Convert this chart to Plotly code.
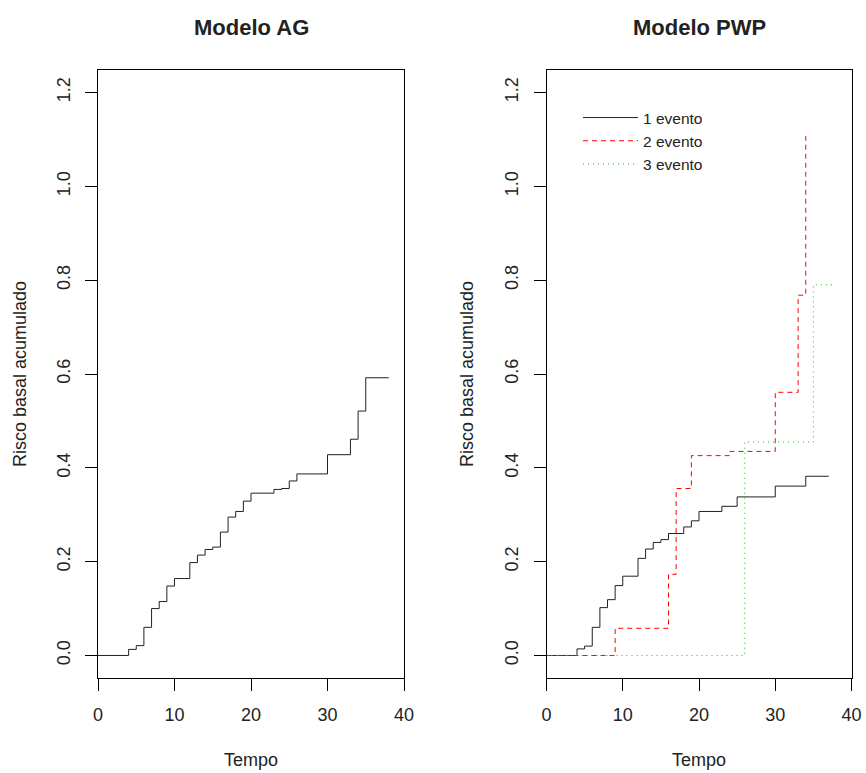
import plotly.graph_objects as go

# ---- data ----
ag_time = [0, 4, 5, 6, 7, 8, 9, 10, 12, 13, 14, 15, 16, 17, 18, 19, 20, 23, 24, 25, 26, 30, 33, 34, 35, 38]
ag_haz = [0, 0.013, 0.021, 0.060, 0.100, 0.115, 0.148, 0.164, 0.198, 0.214, 0.226, 0.231, 0.263,
          0.295, 0.307, 0.329, 0.346, 0.354, 0.356, 0.372, 0.387, 0.428, 0.461, 0.521, 0.592, 0.592]

pwp1_time = [0, 4, 5, 6, 7, 8, 9, 10, 12, 13, 14, 15, 16, 18, 19, 20, 23, 25, 30, 34, 37]
pwp1_haz = [0, 0.014, 0.020, 0.060, 0.102, 0.119, 0.149, 0.169, 0.207, 0.227, 0.241, 0.247, 0.260,
            0.274, 0.287, 0.307, 0.318, 0.338, 0.361, 0.382, 0.382]

pwp2_time = [0, 9, 16, 17, 19, 24, 30, 33, 34, 34.5]
pwp2_haz = [0, 0.058, 0.173, 0.356, 0.426, 0.435, 0.561, 0.768, 1.107, 1.107]

pwp3_time = [0, 26, 35, 37.7]
pwp3_haz = [0, 0.455, 0.790, 0.790]

titles = ["Modelo AG", "Modelo PWP"]
legend_names = ["1 evento", "2 evento", "3 evento"]
x_label = "Tempo"
y_label = "Risco basal acumulado"
y_ticks = [0.0, 0.2, 0.4, 0.6, 0.8, 1.0, 1.2]
x_ticks = [0, 10, 20, 30, 40]

W, H = 866, 773
FONT = "Liberation Sans, Arial, Helvetica, sans-serif"

fig = go.Figure()

fig.add_trace(go.Scatter(x=ag_time, y=ag_haz, mode="lines", line=dict(shape="hv", color="#222222", width=1),
                         showlegend=False, xaxis="x", yaxis="y"))
fig.add_trace(go.Scatter(x=pwp1_time, y=pwp1_haz, mode="lines", name=legend_names[0],
                         line=dict(shape="hv", color="#222222", width=1), xaxis="x2", yaxis="y2"))
fig.add_trace(go.Scatter(x=pwp2_time, y=pwp2_haz, mode="lines", name=legend_names[1],
                         line=dict(shape="hv", color="#FF0000", width=1, dash="5px,4px"), xaxis="x2", yaxis="y2"))
fig.add_trace(go.Scatter(x=pwp3_time, y=pwp3_haz, mode="lines", name=legend_names[2],
                         line=dict(shape="hv", color="#00CD00", width=1, dash="1px,4px"), xaxis="x2", yaxis="y2"))

ydom = [1 - 678 / H, 1 - 70 / H]
xdom1 = [98 / W, 404 / W]
xdom2 = [546.5 / W, 851.5 / W]

def xaxis(dom, anchor):
    return dict(domain=dom, anchor=anchor, range=[0, 40], tickvals=x_ticks, ticktext=[str(v) for v in x_ticks],
                showline=True, mirror=True, linecolor="black", linewidth=1, ticks="outside", ticklen=12,
                tickcolor="black", tickwidth=1, showgrid=False, zeroline=False,
                tickfont=dict(family=FONT, size=18, color="#222222"), ticklabelstandoff=8, automargin=False)

def yaxis(anchor):
    return dict(domain=ydom, anchor=anchor, range=[-0.048, 1.248], tickvals=y_ticks,
                ticktext=[f"{v:.1f}" for v in y_ticks], tickangle=-90,
                showline=True, mirror=True, linecolor="black", linewidth=1, ticks="outside", ticklen=12,
                tickcolor="black", tickwidth=1, showgrid=False, zeroline=False,
                tickfont=dict(family=FONT, size=18, color="#222222"), ticklabelstandoff=8, automargin=False)

fig.update_layout(
    width=W, height=H, margin=dict(l=0, r=0, t=0, b=0),
    paper_bgcolor="white", plot_bgcolor="white",
    font=dict(family=FONT, color="#222222"),
    xaxis=xaxis(xdom1, "y"), yaxis=yaxis("x"),
    xaxis2=xaxis(xdom2, "y2"), yaxis2=yaxis("x2"),
    legend=dict(x=578 / W, y=1 - 101 / H, xanchor="left", yanchor="top", bgcolor="rgba(0,0,0,0)",
                font=dict(family=FONT, size=15.5, color="#222222"), itemwidth=55, tracegroupgap=0),
)

ann = []
for i, cx in enumerate([(98 + 404) / 2 / W, (546.5 + 851.5) / 2 / W]):
    ann.append(dict(text=f"<b>{titles[i]}</b>", x=cx, y=1 - 27 / H, xref="paper", yref="paper",
                    showarrow=False, font=dict(family=FONT, size=22, color="#222222"), xanchor="center", yanchor="middle"))
    ann.append(dict(text=x_label, x=cx, y=1 - 760 / H, xref="paper", yref="paper",
                    showarrow=False, font=dict(family=FONT, size=18, color="#222222"), xanchor="center", yanchor="middle"))
for xpx in [20, 467]:
    ann.append(dict(text=y_label, x=xpx / W, y=1 - 374 / H, xref="paper", yref="paper", textangle=-90,
                    showarrow=False, font=dict(family=FONT, size=18, color="#222222"), xanchor="center", yanchor="middle"))
fig.update_layout(annotations=ann)

fig.write_html("out.html", config={"displayModeBar": False},
               post_script="document.body.style.margin='0';document.body.style.overflow='hidden';")
